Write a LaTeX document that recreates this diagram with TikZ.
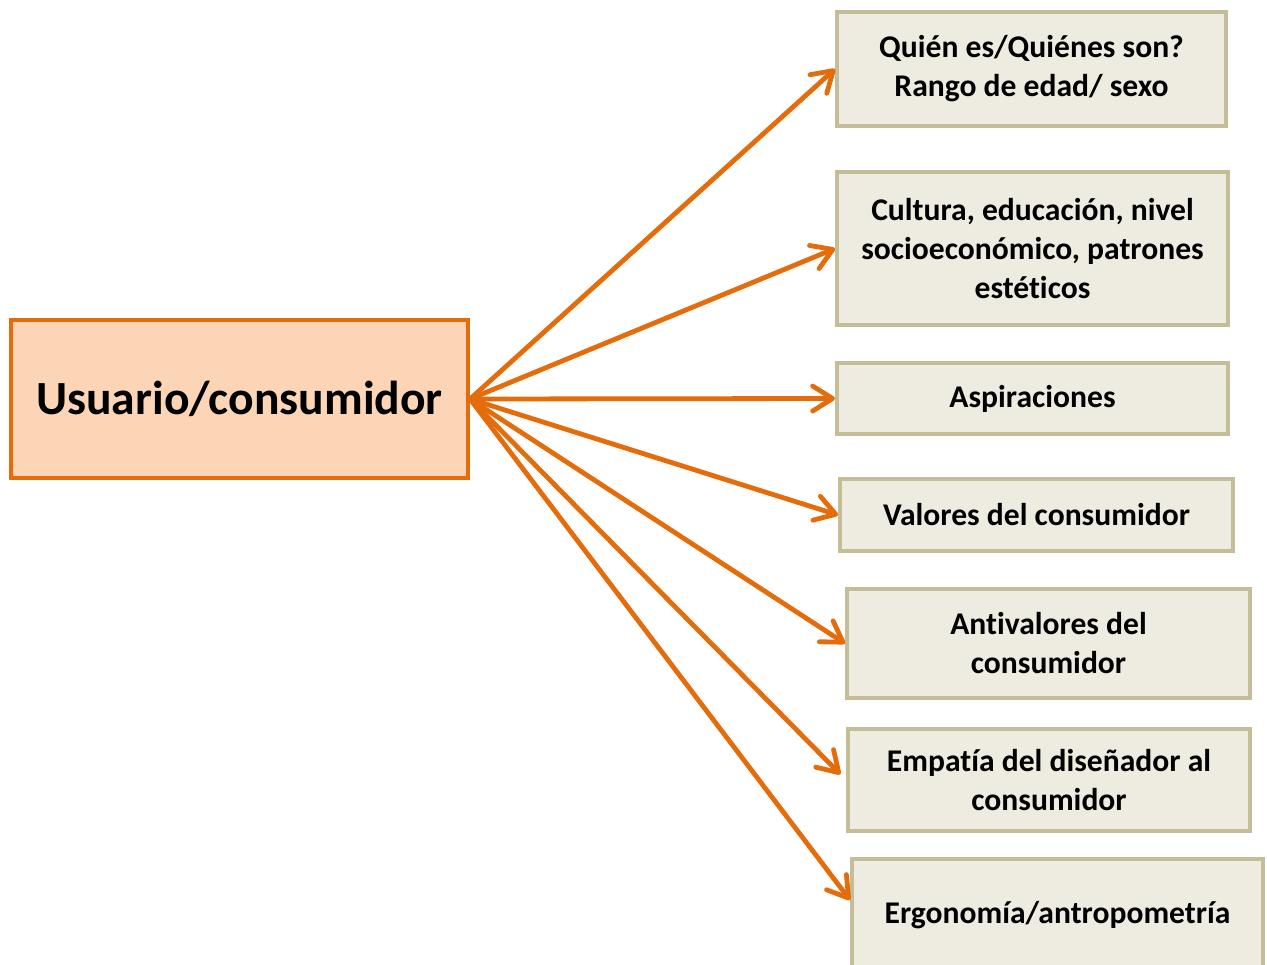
\documentclass[tikz,border=0pt]{standalone}
\usepackage{fontspec}
\setmainfont[Ligatures=NoCommon]{Carlito}
\usetikzlibrary{arrows.meta}

\definecolor{naranja}{HTML}{E46C0A}
\definecolor{durazno}{HTML}{FBD5B5}
\definecolor{borde}{HTML}{C4BD97}
\definecolor{fondo}{HTML}{EEECE1}

\begin{document}
\begin{tikzpicture}[
    x = 0.5pt, y = -0.5pt,
    main/.style = {draw=naranja, fill=durazno, line width=2pt,
        minimum width=228.5pt, minimum height=79pt,
        font=\fontsize{23.8}{28}\selectfont\bfseries},
    item/.style = {draw=borde, fill=fondo, line width=2pt, align=center,
        font=\fontsize{15.8}{19.5}\selectfont\bfseries},
    flecha/.style = {draw=naranja, line width=2.4pt,
        -{Straight Barb[length=10pt, width=12.5pt, round]}}
]
\useasboundingbox (0,0) rectangle (1267,964);

% Main node
\node[main] (usuario) at (239.5,399) {Usuario/consumidor};

% Aspects of the user
\node[item, minimum width=194.5pt, minimum height=57pt] (quien) at (1031.5,69)
    {Quién es/Quiénes son?\\Rango de edad/ sexo};
\node[item, minimum width=195.5pt, minimum height=76.5pt] (cultura) at (1032.5,248.5)
    {Cultura, educación, nivel\\socioeconómico, patrones\\estéticos};
\node[item, minimum width=195.5pt, minimum height=35.5pt] (aspira) at (1032.5,398.5)
    {Aspiraciones};
\node[item, minimum width=196.5pt, minimum height=36pt] (valores) at (1036.5,515)
    {Valores del consumidor};
\node[item, minimum width=201.5pt, minimum height=54.5pt] (antival) at (1048.5,643.5)
    {Antivalores del\\consumidor};
\node[item, minimum width=201pt, minimum height=51pt] (empatia) at (1049,780)
    {Empatía del diseñador al\\consumidor};
\node[item, minimum width=205.5pt, minimum height=56pt] (ergo) at (1057.5,915)
    {Ergonomía/antropometría};

% Arrows
\draw[flecha] (usuario.east) -- (quien.west);
\draw[flecha] (usuario.east) -- (cultura.west);
\draw[flecha] (usuario.east) -- (aspira.west);
\draw[flecha] (usuario.east) -- (valores.west);
\draw[flecha] (usuario.east) -- (antival.west);
\draw[flecha, shorten >=4pt] (usuario.east) -- (empatia.west);
\draw[flecha] (usuario.east) -- ([yshift=7.5pt]ergo.west);

\end{tikzpicture}
\end{document}
